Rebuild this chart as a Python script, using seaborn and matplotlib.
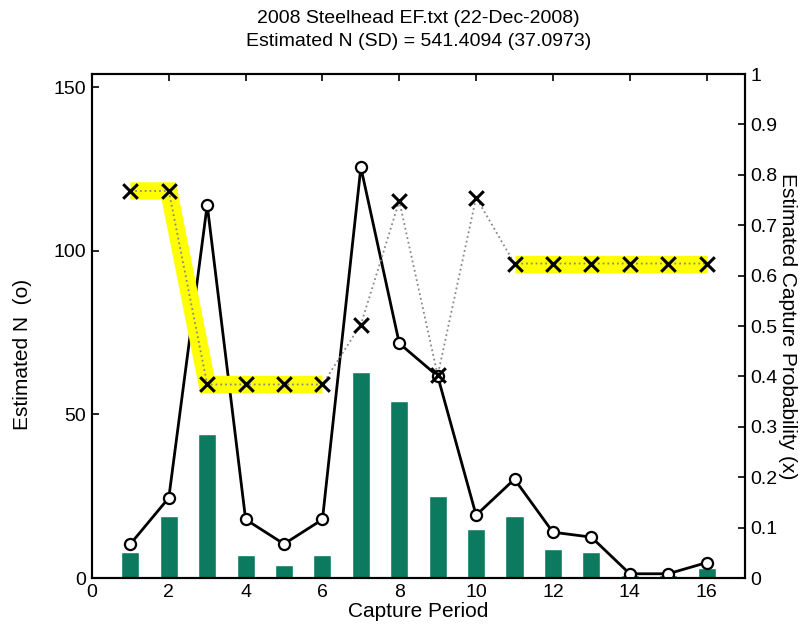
import numpy as np
import pandas as pd
import matplotlib
matplotlib.use("Agg")
import matplotlib.pyplot as plt
import seaborn as sns

# Capture periods and per-period results
period = list(range(1, 17))
captures = [8, 19, 44, 7, 4, 7, 63, 54, 25, 15, 19, 9, 8, 1, 1, 3]
est_n = [10.4, 24.5, 114.0, 17.9, 10.4, 17.9, 125.5, 71.7, 61.7, 19.2,
         30.2, 14.0, 12.5, 1.3, 1.3, 4.7]
cap_prob = [0.768, 0.768, 0.384, 0.384, 0.384, 0.384, 0.503, 0.748, 0.402,
            0.755, 0.624, 0.624, 0.624, 0.624, 0.624, 0.624]

title_lines = ["2008 Steelhead EF.txt (22-Dec-2008)",
               "Estimated N (SD) = 541.4094 (37.0973)"]
xticks = list(range(0, 17, 2))
left_ticks = [0, 50, 100, 150]
right_ticks = [round(0.1 * i, 1) for i in range(11)]

sns.set_style("ticks")
plt.rcParams["font.family"] = ["Liberation Sans", "DejaVu Sans"]
plt.rcParams["xtick.direction"] = "in"
plt.rcParams["ytick.direction"] = "in"
plt.rcParams["text.color"] = "black"
plt.rcParams["axes.labelcolor"] = "black"

FS = 14      # tick labels and title
LFS = 15     # axis labels

df = pd.DataFrame({"period": period, "captures": captures,
                   "est_n": est_n, "cap_prob": cap_prob})

fig = plt.figure(figsize=(8.04, 6.30), dpi=100)
ax = fig.add_axes([0.1144, 0.0825, 0.8122, 0.8000])

sns.barplot(data=df, x="period", y="captures", native_scale=True,
            width=0.47, color="#0b7a5f", saturation=1, ax=ax, zorder=2)
sns.lineplot(data=df, x="period", y="est_n", color="black", lw=2,
             marker="o", markersize=8, markerfacecolor="white",
             markeredgecolor="black", markeredgewidth=1.6, ax=ax, zorder=3)

ax.set_xlim(0, 17)
ax.set_ylim(0, 154)
ax.set_xticks(xticks)
ax.set_yticks(left_ticks)
ax.set_xlabel("Capture Period", fontsize=LFS, labelpad=1)
ax.set_ylabel("Estimated N  (o)", fontsize=LFS)
ax.yaxis.set_label_coords(-0.092, 0.444)
ax.tick_params(axis="both", labelsize=FS, length=5, width=1.2,
               top=True, colors="black", pad=4)
for s in ax.spines.values():
    s.set_linewidth(1.5)
    s.set_visible(True)
    s.set_color("black")

ax2 = ax.twinx()
# Highlighted groups of equal capture probability
hl = df[df["period"].isin(range(1, 7))]
ax2.plot(hl["period"], hl["cap_prob"], color="#ffff00", lw=12.5,
         solid_capstyle="butt", solid_joinstyle="miter", zorder=1)
hl2 = df[df["period"].isin(range(11, 17))]
ax2.plot(hl2["period"], hl2["cap_prob"], color="#ffff00", lw=12.5,
         solid_capstyle="butt", zorder=1)
sns.lineplot(data=df, x="period", y="cap_prob", color="#888888", lw=1.3,
             linestyle=":", ax=ax2, zorder=2)
ax2.scatter(df["period"], df["cap_prob"], marker="x", s=110,
            color="black", linewidths=2.2, zorder=3)

ax2.set_ylim(0, 1)
ax2.set_yticks(right_ticks)
ax2.set_yticklabels(["0" if t == 0 else ("1" if t == 1 else f"{t:g}")
                     for t in right_ticks])
ax2.set_ylabel("Estimated Capture Probability (x)", fontsize=LFS,
               rotation=270, labelpad=14)
ax2.tick_params(axis="y", labelsize=FS, length=5, width=1.2, colors="black",
                pad=4)
for s in ax2.spines.values():
    s.set_linewidth(1.5)
    s.set_color("black")

ax.set_title("\n".join(title_lines), fontsize=FS, pad=20, linespacing=1.5)

fig.savefig("out.png", dpi=100)
